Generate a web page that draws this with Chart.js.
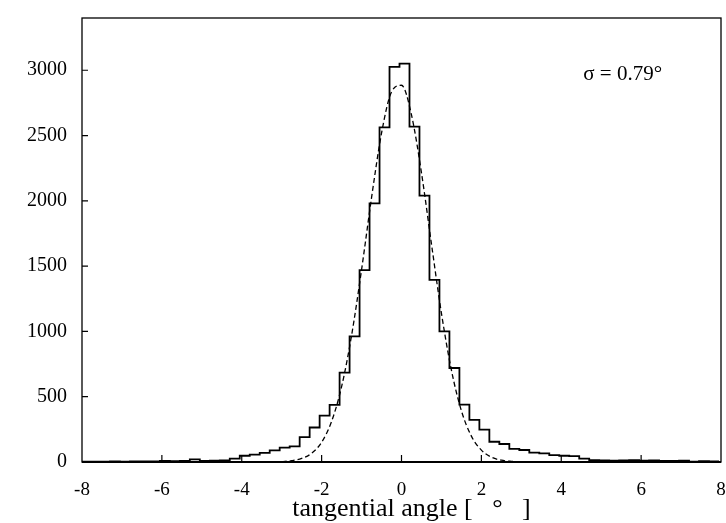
<!DOCTYPE html>
<html>
<head>
<meta charset="utf-8">
<script src="https://cdn.jsdelivr.net/npm/chart.js@4.4.1/dist/chart.umd.min.js"></script>
<style>
html, body { margin: 0; padding: 0; background: #fff; }
#wrap { width: 726px; height: 523px; }
</style>
</head>
<body>
<div id="wrap"><canvas id="histChart" width="726" height="523"></canvas></div>
<script>
// histogram bins: left edge of first bin, bin width, counts per bin
const BIN_START = -8.05;
const BIN_WIDTH = 0.25;
const binCounts = [
    2, 3, 2, 4, 3, 5, 4, 5, 8, 6,
    9, 20, 8, 10, 12, 26, 48, 56, 70, 89,
    110, 120, 190, 264, 355, 437, 685, 962, 1469, 1980,
    2563, 3025, 3050, 2568, 2040, 1394, 1001, 720, 440, 322,
    248, 155, 138, 100, 92, 72, 66, 52, 48, 45,
    26, 14, 12, 10, 12, 14, 10, 12, 9, 8,
    10, 3, 6, 5
];

// dashed gaussian fit
const fitAngles = [-3, -2.75, -2.5, -2.25, -2, -1.75, -1.5, -1.25, -1, -0.75, -0.5, -0.25,
    0, 0.25, 0.5, 0.75, 1, 1.25, 1.5, 1.75, 2, 2.25, 2.5, 2.75, 3];
const fitCounts = [3, 10, 27, 67, 151, 311, 577, 969, 1472, 2024, 2518, 2834,
    2885, 2658, 2215, 1670, 1139, 703, 392, 198, 91, 37, 14, 5, 1];

const xTickValues = [-8, -6, -4, -2, 0, 2, 4, 6, 8];
const yTickValues = [0, 500, 1000, 1500, 2000, 2500, 3000];
const X_MIN = -8, X_MAX = 8, Y_MAX = 3400;
const sigmaLabel = '\u03c3 = 0.79\u00b0';
const xTitle = 'tangential angle [   \u00b0   ]';

const FONT = "'Liberation Serif', 'Times New Roman', serif";

const histPoints = binCounts.map((c, i) => ({ x: BIN_START + i * BIN_WIDTH, y: c }));
histPoints.push({ x: BIN_START + binCounts.length * BIN_WIDTH, y: binCounts[binCounts.length - 1] });
// 'before' in chart.js keeps each bin at its own count (horizontal first, then vertical)
histPoints.unshift({ x: BIN_START, y: binCounts[0] });

const fitPoints = fitAngles.map((a, i) => ({ x: a, y: fitCounts[i] }));

// frame, inward tick marks, axis title and the sigma note
const framePlugin = {
    id: 'frame',
    afterDraw(chart) {
        const { ctx, chartArea: a, scales } = chart;
        ctx.save();
        ctx.strokeStyle = '#000';
        ctx.lineWidth = 1.3;
        ctx.strokeRect(a.left, a.top, a.right - a.left, a.bottom - a.top);
        ctx.lineWidth = 2;
        ctx.beginPath();
        ctx.moveTo(a.left, a.bottom);
        ctx.lineTo(a.right, a.bottom);
        ctx.stroke();

        ctx.lineWidth = 1.2;
        ctx.beginPath();
        yTickValues.forEach(v => {
            if (v === 0) return;
            const y = scales.y.getPixelForValue(v);
            ctx.moveTo(a.left, y);
            ctx.lineTo(a.left + 6, y);
        });
        xTickValues.forEach(v => {
            if (v === X_MIN || v === X_MAX) return;
            const x = scales.x.getPixelForValue(v);
            ctx.moveTo(x, a.bottom);
            ctx.lineTo(x, a.bottom - 7);
        });
        ctx.stroke();

        ctx.fillStyle = '#000';
        ctx.textBaseline = 'middle';
        ctx.font = '21px ' + FONT;
        ctx.textAlign = 'left';
        ctx.fillText(sigmaLabel, scales.x.getPixelForValue(4.55), scales.y.getPixelForValue(2970));

        ctx.font = '26px ' + FONT;
        ctx.textAlign = 'center';
        ctx.fillText(xTitle, scales.x.getPixelForValue(0.25), 509);
        ctx.restore();
    }
};

new Chart(document.getElementById('histChart'), {
    type: 'line',
    data: {
        datasets: [
            {
                label: 'histogram',
                data: histPoints,
                stepped: 'before',
                borderColor: '#000',
                borderWidth: 1.8,
                pointRadius: 0,
                fill: false
            },
            {
                label: 'fit',
                data: fitPoints,
                borderColor: '#000',
                borderWidth: 1.3,
                borderDash: [5, 3],
                pointRadius: 0,
                cubicInterpolationMode: 'monotone',
                fill: false
            }
        ]
    },
    options: {
        responsive: false,
        animation: false,
        devicePixelRatio: 1,
        layout: { padding: { top: 18, right: 5, left: 0, bottom: 0 } },
        plugins: {
            legend: { display: false },
            tooltip: { enabled: false }
        },
        scales: {
            x: {
                type: 'linear',
                min: X_MIN,
                max: X_MAX,
                grid: { display: false, drawTicks: false },
                border: { display: false },
                afterBuildTicks: s => { s.ticks = xTickValues.map(v => ({ value: v })); },
                afterFit: s => { s.height = 61; s.paddingLeft = 0; s.paddingRight = 0; },
                ticks: {
                    color: '#000',
                    padding: 17,
                    maxRotation: 0,
                    callback: v => String(v),
                    font: { family: FONT, size: 19 }
                }
            },
            y: {
                type: 'linear',
                min: 0,
                max: Y_MAX,
                grid: { display: false, drawTicks: false },
                border: { display: false },
                afterBuildTicks: s => { s.ticks = yTickValues.map(v => ({ value: v })); },
                afterFit: s => { s.width = 82; s.paddingTop = 0; s.paddingBottom = 0; },
                ticks: {
                    color: '#000',
                    padding: 15,
                    callback: v => String(v),
                    font: { family: FONT, size: 20 }
                }
            }
        }
    },
    plugins: [framePlugin]
});
</script>
</body>
</html>
